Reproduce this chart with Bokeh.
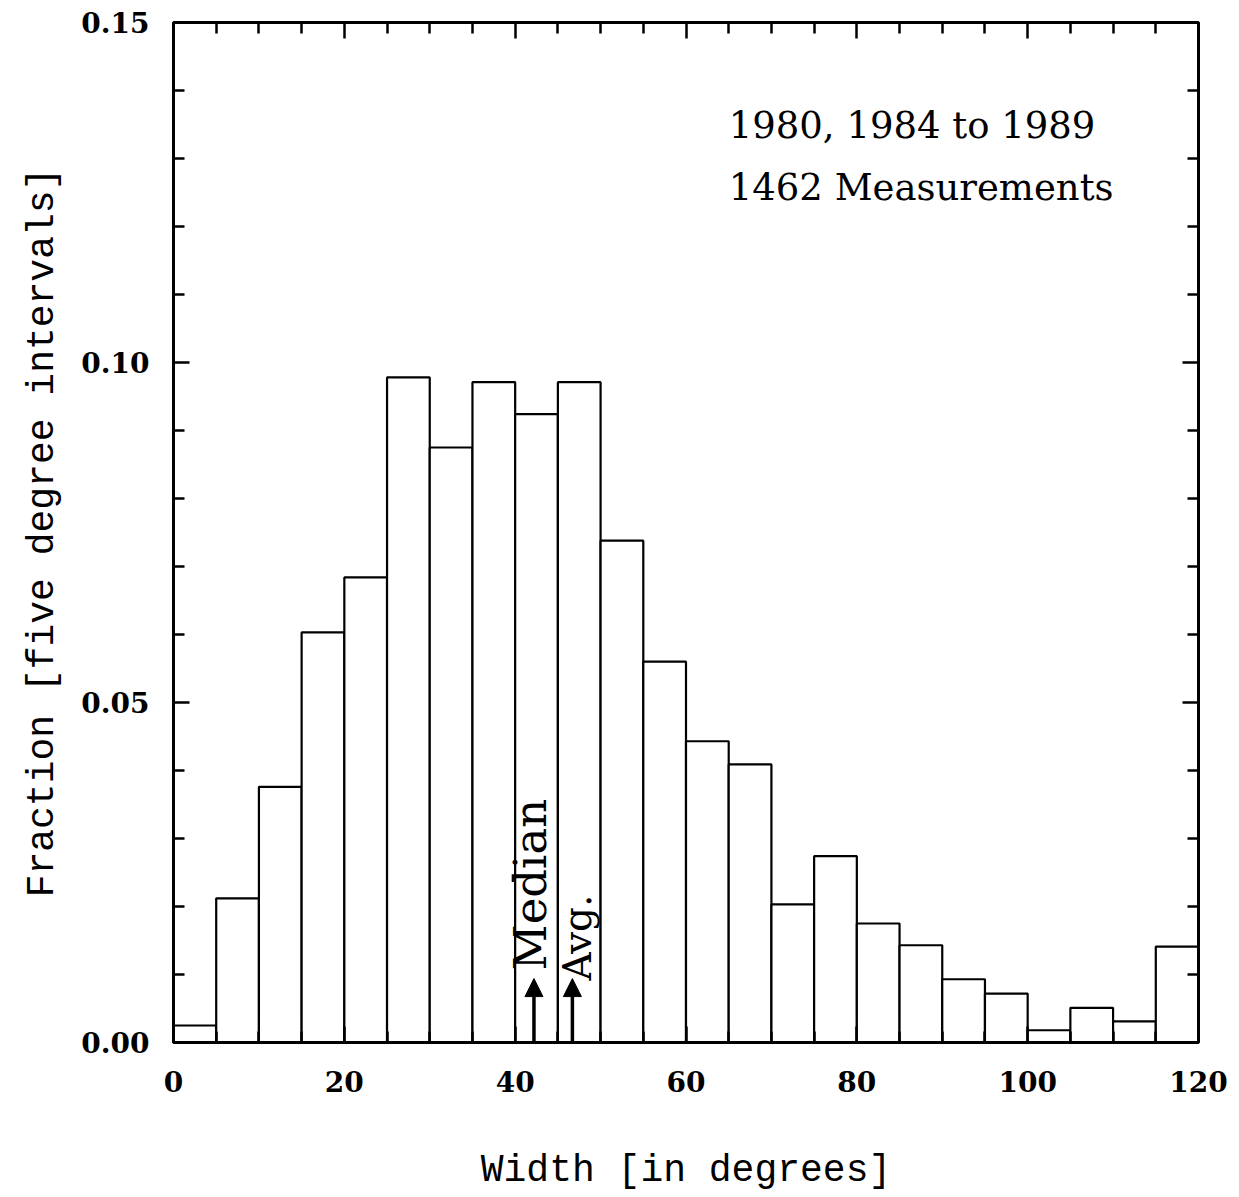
import math
from bokeh.plotting import figure
from bokeh.models import (Range1d, FixedTicker, LinearAxis, PrintfTickFormatter,
                          CustomJSTickFormatter, Arrow, NormalHead, ColumnDataSource, Label)
from bokeh.embed import file_html
from bokeh.resources import INLINE

# ---- data ----
bin_left = [0, 5, 10, 15, 20, 25, 30, 35, 40, 45, 50, 55,
            60, 65, 70, 75, 80, 85, 90, 95, 100, 105, 110, 115]
bin_right = [5, 10, 15, 20, 25, 30, 35, 40, 45, 50, 55, 60,
             65, 70, 75, 80, 85, 90, 95, 100, 105, 110, 115, 120]
fraction = [0.0025, 0.0212, 0.0376, 0.0603, 0.0684, 0.0978, 0.0875, 0.0971,
            0.0924, 0.0971, 0.0738, 0.0560, 0.0443, 0.0409, 0.0203, 0.0274,
            0.0175, 0.0143, 0.0093, 0.0072, 0.0018, 0.0051, 0.0031, 0.0141]
MEDIAN = 42.2
AVERAGE = 46.7
x_major_ticks = [0, 20, 40, 60, 80, 100, 120]
x_minor_ticks = [5, 10, 15, 25, 30, 35, 45, 50, 55, 65, 70, 75, 85, 90, 95, 105, 110, 115]
y_major_ticks = [0.0, 0.05, 0.10, 0.15]
y_minor_ticks = [0.01, 0.02, 0.03, 0.04, 0.06, 0.07, 0.08, 0.09, 0.11, 0.12, 0.13, 0.14]
info_lines = ["1980, 1984 to 1989", "1462 Measurements"]
x_title = "Width [in degrees]"
y_title = "Fraction [five degree intervals]"

p = figure(width=1231, height=1195, output_backend="svg", toolbar_location=None,
           x_range=Range1d(0, 120), y_range=Range1d(0, 0.15),
           min_border_left=173, min_border_right=33, min_border_top=22, min_border_bottom=153)
p.grid.visible = False
p.background_fill_color = "white"
p.border_fill_color = "white"
p.outline_line_color = "black"
p.outline_line_width = 3

src = ColumnDataSource(dict(left=bin_left, right=bin_right, top=fraction,
                            bottom=[0] * len(fraction)))
p.quad(left="left", right="right", top="top", bottom="bottom", source=src,
       fill_color="white", line_color="black", line_width=2.2)

def style(ax, labels=True):
    ax.axis_line_width = 3
    ax.major_tick_in = 16
    ax.major_tick_out = 0
    ax.minor_tick_in = 11
    ax.minor_tick_out = 0
    ax.major_tick_line_width = 2.5
    ax.minor_tick_line_width = 2.5
    if labels:
        ax.major_label_text_font = "DejaVu Serif"
        ax.major_label_text_font_style = "bold"
        ax.major_label_text_font_size = "28px"
        ax.major_label_text_color = "black"
        ax.axis_label_text_font = "Liberation Mono"
        ax.axis_label_text_font_style = "normal"
        ax.axis_label_text_font_size = "38px"
        ax.axis_label_text_color = "black"
    else:
        ax.formatter = CustomJSTickFormatter(code="return '';")
        ax.major_label_standoff = 0

xa = p.xaxis[0]
xa.ticker = FixedTicker(ticks=x_major_ticks, minor_ticks=x_minor_ticks)
xa.axis_label = x_title
style(xa)
xa.major_label_standoff = 28
xa.axis_label_standoff = 54

ya = p.yaxis[0]
ya.ticker = FixedTicker(ticks=y_major_ticks, minor_ticks=y_minor_ticks)
ya.formatter = PrintfTickFormatter(format="%.2f")
ya.axis_label = y_title
style(ya)
ya.major_label_standoff = 24
ya.axis_label_standoff = 14

top_ax = LinearAxis(ticker=FixedTicker(ticks=x_major_ticks, minor_ticks=x_minor_ticks))
style(top_ax, labels=False)
p.add_layout(top_ax, "above")
right_ax = LinearAxis(ticker=FixedTicker(ticks=y_major_ticks, minor_ticks=y_minor_ticks))
style(right_ax, labels=False)
p.add_layout(right_ax, "right")

# arrows
for xv in (MEDIAN, AVERAGE):
    p.add_layout(Arrow(end=NormalHead(size=18, fill_color="black", line_color="black"),
                       x_start=xv, y_start=0, x_end=xv, y_end=0.0094,
                       line_width=3.5, line_color="black"))

p.add_layout(Label(x=MEDIAN, y=0.0106, x_offset=-3, text="Median", angle=math.pi / 2,
                   text_font="DejaVu Serif", text_font_size="45px",
                   text_baseline="alphabetic", text_align="left", text_color="black"))
p.add_layout(Label(x=AVERAGE, y=0.0091, x_offset=5, text="Avg.", angle=math.pi / 2,
                   text_font="DejaVu Serif", text_font_size="39px",
                   text_baseline="alphabetic", text_align="left", text_color="black"))

p.add_layout(Label(x=65, y=0.1348, text=info_lines[0], text_font="DejaVu Serif",
                   text_font_size="37px", text_baseline="alphabetic", text_color="black"))
p.add_layout(Label(x=65, y=0.1257, text=info_lines[1], text_font="DejaVu Serif",
                   text_font_size="37px", text_baseline="alphabetic", text_color="black"))

open("out.html", "w").write(file_html(p, INLINE))
